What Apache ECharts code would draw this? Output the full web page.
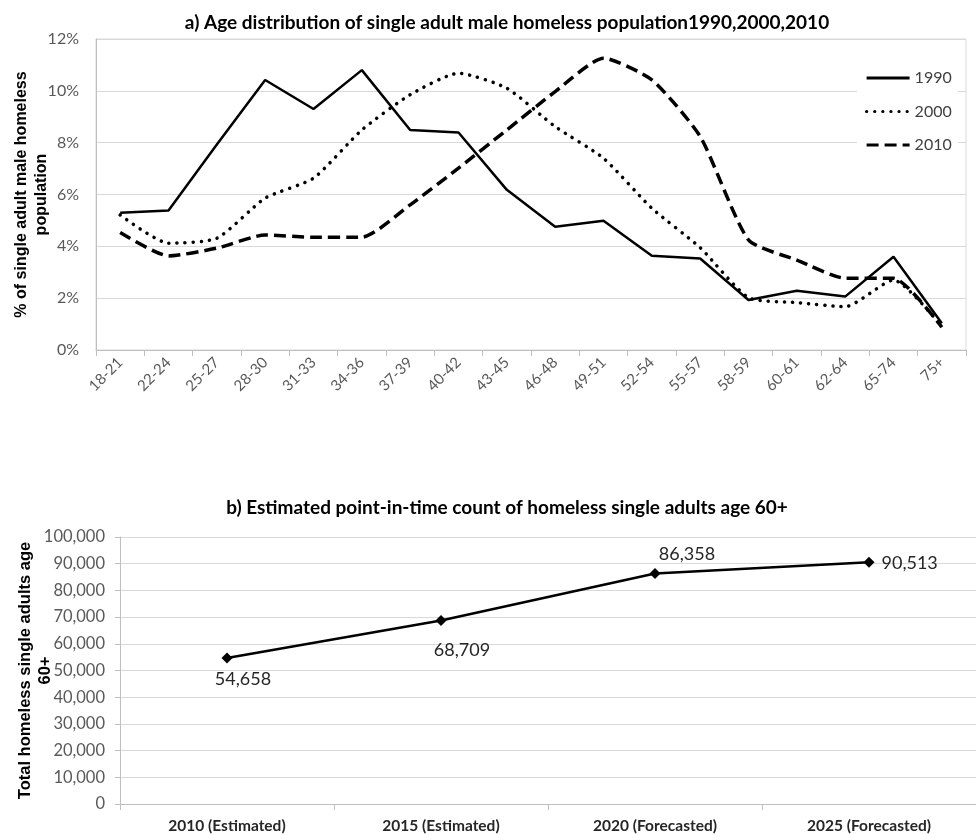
<!DOCTYPE html>
<html>
<head>
<meta charset="utf-8">
<script src="https://cdn.jsdelivr.net/npm/echarts@6/dist/echarts.min.js"></script>
<style>
  html, body { margin: 0; padding: 0; background: #ffffff; }
  #chart { width: 976px; height: 834px; }
</style>
</head>
<body>
<div id="chart"></div>
<script>
// Panel a) age groups and share (%) of single adult male homeless population
const ageGroups = ['18-21','22-24','25-27','28-30','31-33','34-36','37-39','40-42','43-45',
                   '46-48','49-51','52-54','55-57','58-59','60-61','62-64','65-74','75+'];
const share1990 = [5.30, 5.38, 7.93, 10.42, 9.30, 10.80, 8.49, 8.39, 6.18,
                   4.76, 4.99, 3.64, 3.53, 1.93, 2.29, 2.06, 3.60, 1.03];
const share2000 = [5.21, 4.12, 4.31, 5.86, 6.63, 8.49, 9.85, 10.68, 10.10,
                   8.62, 7.40, 5.47, 3.95, 2.02, 1.83, 1.67, 2.70, 0.90];
const share2010 = [4.53, 3.63, 3.93, 4.44, 4.35, 4.35, 5.60, 7.02, 8.49,
                   9.97, 11.26, 10.42, 8.24, 4.25, 3.47, 2.77, 2.77, 0.88];
const shareTicks = [0, 2, 4, 6, 8, 10, 12];

// Panel b) point-in-time count of homeless single adults age 60+
const countYears = ['2010 (Estimated)', '2015 (Estimated)', '2020 (Forecasted)', '2025 (Forecasted)'];
const countValues = [54658, 68709, 86358, 90513];

const sans = 'Lato, "Open Sans", "Liberation Sans", sans-serif';
const arial = '"Liberation Sans", Arial, sans-serif';
const tickGray = '#595959';

// label placement for each point of panel b
const countLabelPlacement = [
  { position: 'bottom', offset: [16, 2] },
  { position: 'bottom', offset: [21, 10] },
  { position: 'top', offset: [32, 0] },
  { position: 'right', offset: [2, 1] }
];

const chart = echarts.init(document.getElementById('chart'), null, { renderer: 'canvas' });

chart.setOption({
  backgroundColor: '#ffffff',
  animation: false,
  title: [
    {
      text: 'a) Age distribution of single adult male homeless population1990,2000,2010',
      left: 502, top: 8, textAlign: 'center',
      textStyle: { fontFamily: sans, fontWeight: 'bold', fontSize: 19, color: '#000' }
    },
    {
      text: 'b) Estimated point-in-time count of homeless single adults age 60+',
      left: 502, top: 493, textAlign: 'center',
      textStyle: { fontFamily: sans, fontWeight: 'bold', fontSize: 19, color: '#000' }
    }
  ],
  legend: {
    orient: 'vertical',
    left: 857, top: 62,
    padding: [8, 6, 8, 8],
    backgroundColor: '#ffffff',
    itemWidth: 43, itemHeight: 14, itemGap: 17.5,
    // line-only keys: the marker symbol is hidden
    itemStyle: { opacity: 0 },
    lineStyle: { width: 3.2 },
    textStyle: { fontFamily: sans, fontSize: 16, color: '#404040' },
    data: ['1990', '2000', '2010']
  },
  grid: [
    { left: 96, top: 39, right: 10, height: 311, show: true, borderColor: '#d9d9d9', borderWidth: 1, containLabel: false },
    { left: 120, top: 537, width: 863, height: 268, containLabel: false }
  ],
  xAxis: [
    {
      type: 'category', gridIndex: 0, data: ageGroups, boundaryGap: true,
      axisLine: { lineStyle: { color: '#bfbfbf', width: 1 } },
      axisTick: { show: true, length: 6, lineStyle: { color: '#bfbfbf' } },
      axisLabel: { rotate: 45, margin: 10, fontFamily: sans, fontSize: 15, color: tickGray },
      splitLine: { show: false }
    },
    {
      type: 'category', gridIndex: 1, data: countYears, boundaryGap: true,
      axisLine: { lineStyle: { color: '#bfbfbf', width: 1 } },
      axisTick: { show: true, length: 6, lineStyle: { color: '#bfbfbf' } },
      axisLabel: { margin: 14, fontFamily: sans, fontSize: 15.5, fontWeight: 'bold', color: '#262626' },
      splitLine: { show: false }
    }
  ],
  yAxis: [
    {
      type: 'value', gridIndex: 0, min: shareTicks[0], max: shareTicks[shareTicks.length - 1], interval: 2,
      name: '% of single adult male homeless\npopulation',
      nameLocation: 'middle', nameGap: 44, nameMoveOverlap: false,
      nameTextStyle: { fontFamily: arial, fontWeight: 'bold', fontSize: 16, color: '#000', lineHeight: 20 },
      axisLine: { show: true, lineStyle: { color: '#bfbfbf' } },
      axisTick: { show: false },
      axisLabel: { margin: 17, fontFamily: sans, fontSize: 16, color: tickGray, formatter: v => v + '%' },
      splitLine: { lineStyle: { color: '#d9d9d9', width: 1 } }
    },
    {
      type: 'value', gridIndex: 1, min: 0, max: 100000, interval: 10000,
      name: 'Total homeless single adults age\n60+',
      nameLocation: 'middle', nameGap: 65, nameMoveOverlap: false,
      nameTextStyle: { fontFamily: arial, fontWeight: 'bold', fontSize: 16.5, color: '#000', lineHeight: 20 },
      axisLine: { show: true, lineStyle: { color: '#bfbfbf' } },
      axisTick: { show: true, length: 5, lineStyle: { color: '#bfbfbf' } },
      axisLabel: { margin: 15, fontFamily: sans, fontSize: 16.5, color: tickGray,
                   formatter: v => v.toLocaleString('en-US') },
      splitLine: { lineStyle: { color: '#d9d9d9', width: 1 } }
    }
  ],
  series: [
    {
      name: '1990', type: 'line', xAxisIndex: 0, yAxisIndex: 0, data: share1990,
      symbol: 'none', smooth: false,
      lineStyle: { color: '#000', width: 2.5, type: 'solid' },
      itemStyle: { color: '#000' }
    },
    {
      name: '2000', type: 'line', xAxisIndex: 0, yAxisIndex: 0, data: share2000,
      symbol: 'none', smooth: 0.2,
      lineStyle: { color: '#000', width: 3.5, type: [0.1, 8], cap: 'round' },
      itemStyle: { color: '#000' }
    },
    {
      name: '2010', type: 'line', xAxisIndex: 0, yAxisIndex: 0, data: share2010,
      symbol: 'none', smooth: 0.2,
      lineStyle: { color: '#000', width: 3.5, type: [12, 6] },
      itemStyle: { color: '#000' }
    },
    {
      name: 'count60', type: 'line', xAxisIndex: 1, yAxisIndex: 1,
      data: countValues.map((v, i) => ({
        value: v,
        label: countLabelPlacement[i]
      })),
      symbol: 'diamond', symbolSize: 11,
      lineStyle: { color: '#000', width: 2.5 },
      itemStyle: { color: '#000' },
      label: {
        show: true, fontFamily: sans, fontSize: 18, color: '#262626',
        formatter: p => p.value.toLocaleString('en-US')
      }
    }
  ]
});
</script>
</body>
</html>
